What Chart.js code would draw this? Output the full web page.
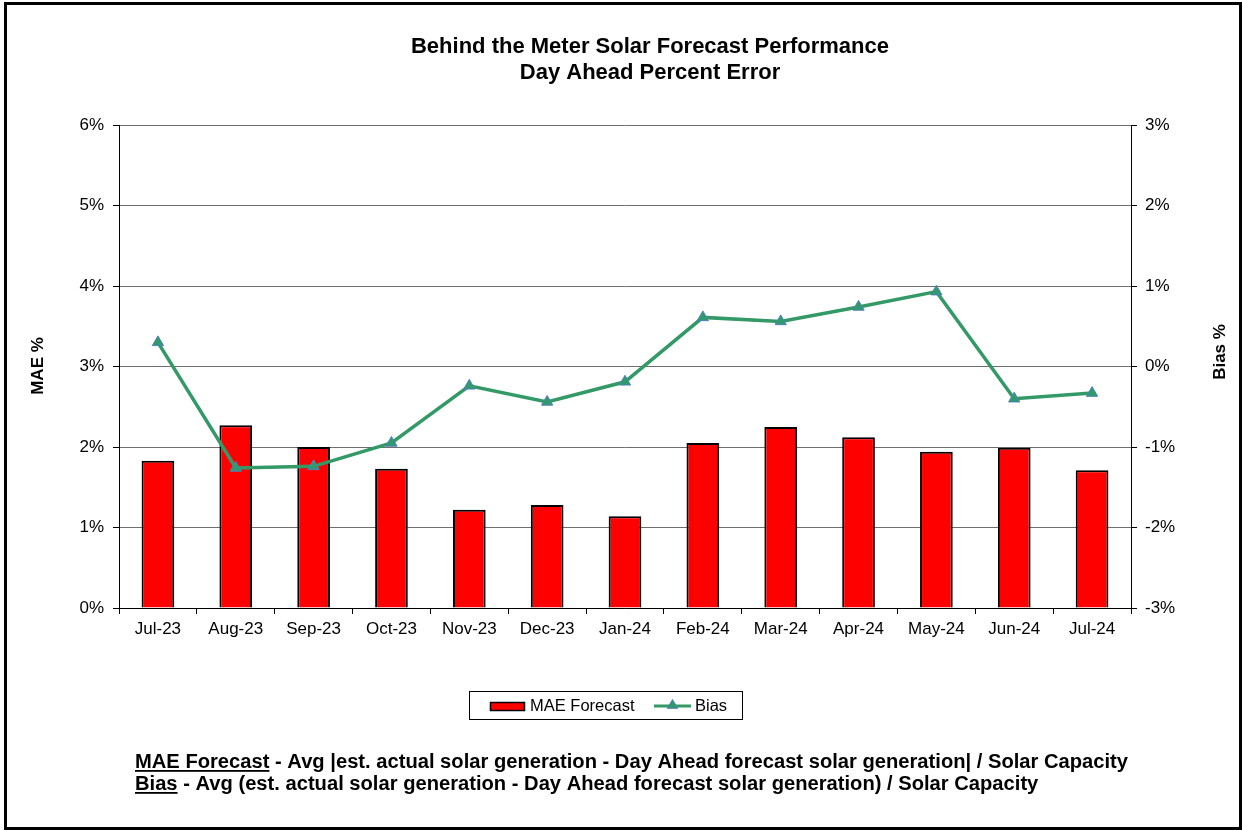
<!DOCTYPE html>
<html><head><meta charset="utf-8">
<script src="https://cdn.jsdelivr.net/npm/chart.js@4.4.1/dist/chart.umd.min.js"></script>
<style>
html,body{margin:0;padding:0;background:#fff;}
#wrap{position:relative;width:1242px;height:830px;overflow:hidden;background:#fff;}
#frame{position:absolute;left:4px;top:2px;width:1238px;height:828px;box-sizing:border-box;border:3px solid #000;pointer-events:none;}
canvas{position:absolute;left:0;top:0;}
</style></head><body>
<div id="wrap"><canvas id="c" width="1242" height="830"></canvas><div id="frame"></div></div>
<script>
const categories = ["Jul-23","Aug-23","Sep-23","Oct-23","Nov-23","Dec-23","Jan-24","Feb-24","Mar-24","Apr-24","May-24","Jun-24","Jul-24"];
const maeForecast = [1.83, 2.27, 2.00, 1.73, 1.22, 1.28, 1.14, 2.05, 2.25, 2.12, 1.94, 1.99, 1.71];
const bias = [0.30, -1.26, -1.24, -0.95, -0.24, -0.44, -0.19, 0.61, 0.56, 0.74, 0.93, -0.40, -0.33];
const maeTicks = [0, 1, 2, 3, 4, 5, 6];
const biasTicks = [-3, -2, -1, 0, 1, 2, 3];
const titleLines = ["Behind the Meter Solar Forecast Performance", "Day Ahead Percent Error"];
const footnotes = [
  ["MAE Forecast", " - Avg |est. actual solar generation - Day Ahead forecast solar generation| / Solar Capacity"],
  ["Bias", " - Avg (est. actual solar generation - Day Ahead forecast solar generation) / Solar Capacity"]
];

const FONT = '"Liberation Sans", Arial, Helvetica, sans-serif';
Chart.defaults.font.family = FONT;
Chart.defaults.color = '#000';

const GREEN = '#339966';
const TRI_FILL = '#2f9a6a';
const TRI_EDGE = '#4f81bd';

function drawTriangle(ctx, x, y, r) {
  ctx.beginPath();
  ctx.moveTo(x, y - r);
  ctx.lineTo(x + r * 0.95, y + r * 0.6);
  ctx.lineTo(x - r * 0.95, y + r * 0.6);
  ctx.closePath();
  ctx.fillStyle = TRI_FILL;
  ctx.fill();
  ctx.strokeStyle = TRI_EDGE;
  ctx.lineWidth = 1;
  ctx.stroke();
}

const decor = {
  id: 'decor',
  afterDraw(chart) {
    const ctx = chart.ctx;
    ctx.save();
    // Title
    ctx.fillStyle = '#000';
    ctx.textAlign = 'center';
    ctx.textBaseline = 'alphabetic';
    ctx.font = 'bold 22px ' + FONT;
    ctx.fillText(titleLines[0], 650, 53);
    ctx.fillText(titleLines[1], 650, 79);

    // Axis titles
    ctx.font = 'bold 17px ' + FONT;
    ctx.textBaseline = 'middle';
    ctx.save();
    ctx.translate(38, 366);
    ctx.rotate(-Math.PI / 2);
    ctx.fillText('MAE %', 0, 0);
    ctx.restore();
    ctx.save();
    ctx.translate(1220, 352);
    ctx.rotate(-Math.PI / 2);
    ctx.fillText('Bias %', 0, 0);
    ctx.restore();

    // Legend
    ctx.strokeStyle = '#000';
    ctx.lineWidth = 1;
    ctx.strokeRect(469.5, 691.5, 273, 28);
    ctx.fillStyle = '#ff0000';
    ctx.fillRect(490, 702, 35, 9);
    ctx.lineWidth = 1.5;
    ctx.strokeRect(490.5, 702.5, 34, 8);
    ctx.fillStyle = '#000';
    ctx.textAlign = 'left';
    ctx.font = '16.5px ' + FONT;
    ctx.fillText('MAE Forecast', 530, 706);
    ctx.strokeStyle = GREEN;
    ctx.lineWidth = 3;
    ctx.beginPath();
    ctx.moveTo(654, 706);
    ctx.lineTo(691, 706);
    ctx.stroke();
    drawTriangle(ctx, 672.5, 705, 5.5);
    ctx.fillStyle = '#000';
    ctx.fillText('Bias', 695, 706);

    // Footnotes (condensed bold)
    ctx.font = 'bold 20px ' + FONT;
    ctx.textBaseline = 'alphabetic';
    const w1 = ctx.measureText(footnotes[0][0] + footnotes[0][1]).width;
    const sx = 993 / w1;
    const baselines = [768, 790];
    footnotes.forEach((parts, i) => {
      ctx.save();
      ctx.translate(135, baselines[i]);
      ctx.scale(sx, 1);
      ctx.fillStyle = '#000';
      ctx.fillText(parts[0], 0, 0);
      const uw = ctx.measureText(parts[0]).width;
      ctx.fillRect(0, 2, uw, 1.8);
      ctx.fillText(parts[1], uw, 0);
      ctx.restore();
    });
    ctx.restore();
  }
};

new Chart(document.getElementById('c'), {
  data: {
    labels: categories,
    datasets: [
      {
        type: 'line',
        label: 'Bias',
        data: bias,
        yAxisID: 'y1',
        borderColor: GREEN,
        borderWidth: 3.5,
        tension: 0,
        pointStyle: 'triangle',
        pointRadius: 6.5,
        pointBackgroundColor: TRI_FILL,
        pointBorderColor: TRI_EDGE,
        pointBorderWidth: 1,
        order: 0
      },
      {
        type: 'bar',
        label: 'MAE Forecast',
        data: maeForecast,
        yAxisID: 'y',
        backgroundColor: '#ff0000',
        borderColor: '#000',
        borderWidth: 2,
        barPercentage: 0.42,
        categoryPercentage: 1,
        order: 1
      }
    ]
  },
  options: {
    responsive: false,
    animation: false,
    devicePixelRatio: 1,
    layout: { padding: { left: 10, right: 10, top: 125, bottom: 182 } },
    plugins: { legend: { display: false }, title: { display: false }, tooltip: { enabled: false } },
    scales: {
      x: {
        type: 'category',
        offset: true,
        grid: { offset: true, drawOnChartArea: false, drawTicks: true, tickLength: 6, tickColor: '#000', color: '#000' },
        border: { display: true, color: '#000', width: 1 },
        ticks: { font: { size: 17 }, color: '#000', padding: 5, maxRotation: 0, autoSkip: false },
        afterFit(s) { s.height = 40; }
      },
      y: {
        position: 'left',
        min: 0, max: 6,
        afterBuildTicks(s) { s.ticks = maeTicks.map(v => ({ value: v })); },
        ticks: { font: { size: 17 }, color: '#000', padding: 9, callback: v => v + '%' },
        grid: { color: '#6e6e6e', lineWidth: 1, drawTicks: true, tickLength: 6, tickColor: '#000' },
        border: { display: true, color: '#000', width: 1 },
        afterFit(s) { s.width = 109; }
      },
      y1: {
        position: 'right',
        min: -3, max: 3,
        afterBuildTicks(s) { s.ticks = biasTicks.map(v => ({ value: v })); },
        ticks: { font: { size: 17 }, color: '#000', padding: 8, callback: v => v + '%' },
        grid: { drawOnChartArea: false, drawTicks: true, tickLength: 6, tickColor: '#000' },
        border: { display: true, color: '#000', width: 1 },
        afterFit(s) { s.width = 101; }
      }
    }
  },
  plugins: [decor]
});
</script>
</body></html>
